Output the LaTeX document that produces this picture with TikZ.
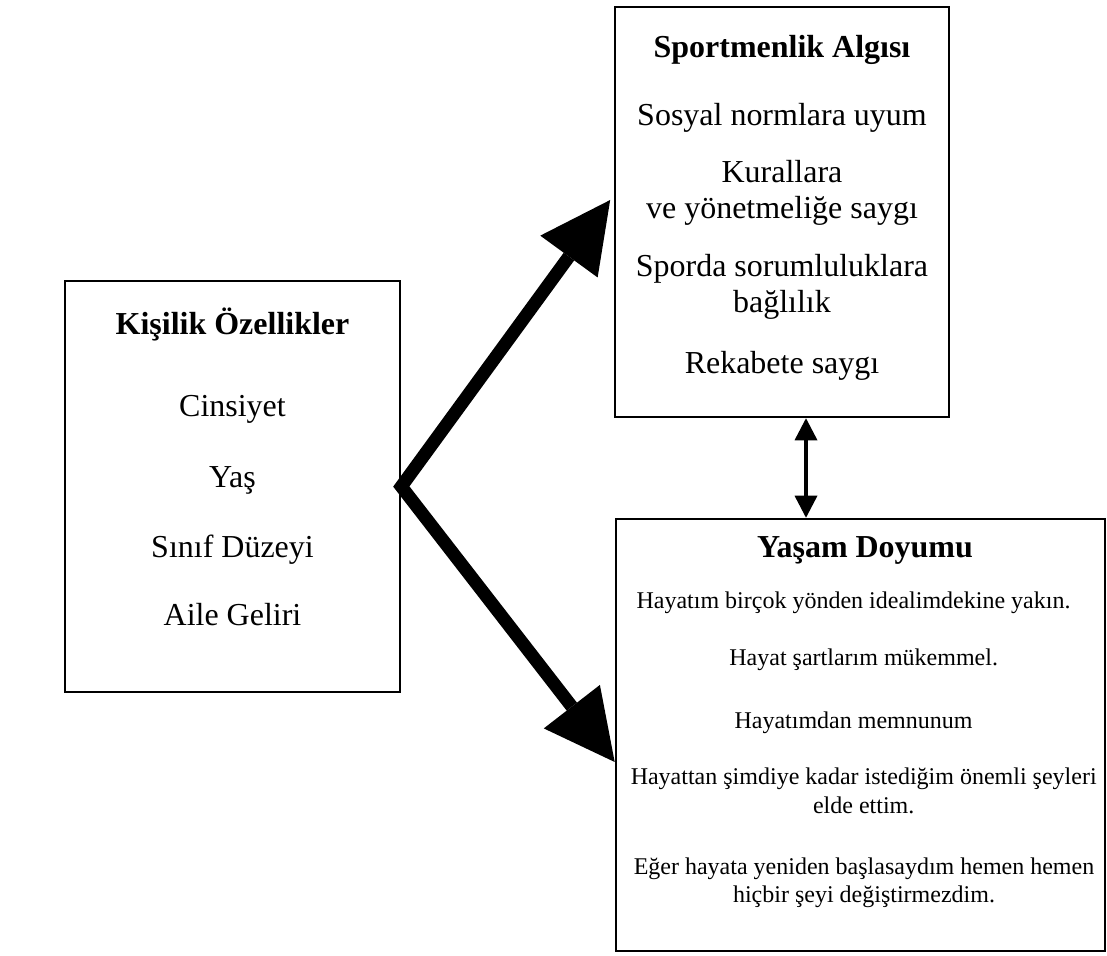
\documentclass[tikz,border=0pt]{standalone}
\usepackage{fontspec}
\setmainfont{Liberation Serif}
\usetikzlibrary{arrows.meta}

\begin{document}
\begin{tikzpicture}[x=0.02cm,y=-0.02cm,
  kutu/.style={draw,line width=0.054cm},
  baslik/.style={anchor=base,font=\fontsize{18.2}{20.5}\selectfont\bfseries},
  madde/.style={anchor=base,align=center,font=\fontsize{18.2}{20.5}\selectfont},
  kucukmadde/.style={anchor=base,align=center,font=\fontsize{13.66}{16.2}\selectfont},
  kalinok/.style={line width=0.26cm,line join=miter,
    {Triangle[length=1.4cm,width=1.42cm,line width=0pt]}-{Triangle[length=1.4cm,width=1.42cm,line width=0pt]}},
  ciftok/.style={line width=0.066cm,
    {Triangle[length=0.44cm,width=0.46cm,line width=0pt]}-{Triangle[length=0.44cm,width=0.46cm,line width=0pt]}}]
  \useasboundingbox[fill=white] (0,0) rectangle (1107,956);

  % kutular
  \node[kutu,minimum width=6.7cm,minimum height=8.22cm] (kisilik) at (232.5,486.5) {};
  \node[kutu,minimum width=6.68cm,minimum height=8.2cm] (sportmenlik) at (782,212) {};
  \node[kutu,minimum width=9.78cm,minimum height=8.64cm] (doyum) at (860.5,735) {};

  % sol kutu
  \node[baslik] (kisilikBaslik) at (232.5,335) {Kişilik Özellikler};
  \foreach \y/\t [count=\i] in {417/Cinsiyet, 488/Yaş, 558/Sınıf Düzeyi, 625/Aile Geliri}
    \node[madde] (k\i) at (232.5,\y) {\t};

  % sağ üst kutu (iki satırlılarda y = son satır)
  \node[baslik] (sportmenlikBaslik) at (782,58) {Sportmenlik Algısı};
  \foreach \y/\t [count=\i] in {126/{Sosyal normlara uyum}, 219/{Kurallara\\ve yönetmeliğe saygı},
      313/{Sporda sorumluluklara\\bağlılık}, 374/{Rekabete saygı}}
    \node[madde] (s\i) at (782,\y) {\t};

  % sağ alt kutu
  \node[baslik] (doyumBaslik) at (865,558) {Yaşam Doyumu};
  \foreach \x/\y/\t [count=\i] in {853.5/608.5/{Hayatım birçok yönden idealimdekine yakın.},
      863.7/665/{Hayat şartlarım mükemmel.}, 853.5/728/{Hayatımdan memnunum},
      863.7/813/{Hayattan şimdiye kadar istediğim önemli şeyleri\\elde ettim.},
      864/902.5/{Eğer hayata yeniden başlasaydım hemen hemen\\hiçbir şeyi değiştirmezdim.}}
    \node[kucukmadde] (d\i) at (\x,\y) {\t};

  % oklar
  \coordinate (ustUc) at ([xshift=-0.07cm,yshift=0.24cm]sportmenlik.west);
  \coordinate (altUc) at ([yshift=-0.54cm]doyum.west);
  \draw[kalinok] (ustUc) -- (kisilik.east) -- (altUc);
  \coordinate (orta) at (806,0);
  \draw[ciftok] (sportmenlik.south -| orta) -- (doyum.north -| orta);
\end{tikzpicture}
\end{document}
